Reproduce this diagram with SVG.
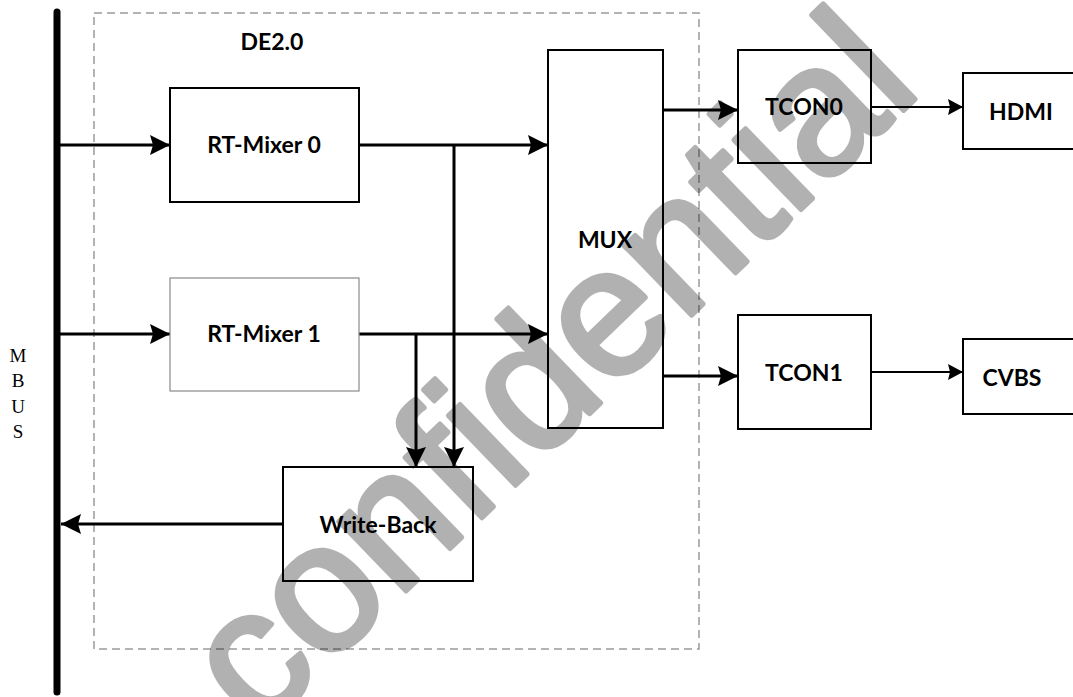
<svg xmlns="http://www.w3.org/2000/svg" width="1073" height="697" viewBox="0 0 1073 697">
<style>
.box{fill:#fff;stroke:#000;stroke-width:2}
.lbl{font-family:Lato,"Open Sans","Liberation Sans",sans-serif;font-weight:bold;font-size:23px;fill:#000;text-anchor:middle}
.wire{fill:none;stroke:#000;stroke-width:3}
.thin{fill:none;stroke:#000;stroke-width:2}
.bus{font-family:"Liberation Serif",serif;font-size:19px;fill:#000;text-anchor:middle}
</style>
<defs>
<marker id="ah" markerUnits="userSpaceOnUse" markerWidth="21" markerHeight="20" refX="20" refY="10" orient="auto" viewBox="0 0 21 20">
<path d="M0,0 L20,10 L0,20 L3,10 z" fill="#000"/>
</marker>
<marker id="ahs" markerUnits="userSpaceOnUse" markerWidth="16" markerHeight="16" refX="15" refY="8" orient="auto" viewBox="0 0 16 16">
<path d="M0,0 L15,8 L0,16 L2,8 z" fill="#000"/>
</marker>
</defs>
<rect width="1073" height="697" fill="#fff"/>
<g id="de2-frame">
<rect x="94" y="13" width="605" height="636" fill="none" stroke="#9a9a9a" stroke-width="1.5" stroke-dasharray="8,5"/>
<text class="lbl" x="272" y="50">DE2.0</text>
</g>
<g id="mbus">
<line x1="57" y1="12" x2="57" y2="692" stroke="#000" stroke-width="7" stroke-linecap="round"/>
<text class="bus" x="18" y="362">M</text>
<text class="bus" x="18" y="387">B</text>
<text class="bus" x="18" y="413">U</text>
<text class="bus" x="18" y="438">S</text>
</g>
<g id="connectors">
<line class="wire" x1="60" y1="145" x2="170" y2="145" marker-end="url(#ah)"/>
<line class="wire" x1="60" y1="334" x2="170" y2="334" marker-end="url(#ah)"/>
<line class="wire" x1="359" y1="145" x2="548" y2="145" marker-end="url(#ah)"/>
<line class="wire" x1="359" y1="334" x2="548" y2="334" marker-end="url(#ah)"/>
<line class="wire" x1="454" y1="144" x2="454" y2="467" marker-end="url(#ah)"/>
<line class="wire" x1="416" y1="333" x2="416" y2="467" marker-end="url(#ah)"/>
<line class="wire" x1="663" y1="110" x2="738" y2="110" marker-end="url(#ah)"/>
<line class="wire" x1="663" y1="376" x2="738" y2="376" marker-end="url(#ah)"/>
<line class="thin" x1="871" y1="107" x2="963" y2="107" marker-end="url(#ahs)"/>
<line class="thin" x1="871" y1="372" x2="963" y2="372" marker-end="url(#ahs)"/>
<line class="wire" x1="283" y1="524" x2="61" y2="524" marker-end="url(#ah)"/>
</g>
<g id="rt-mixer-0">
<rect class="box" x="170" y="88" width="189" height="114"/>
<text class="lbl" x="264" y="153">RT-Mixer 0</text>
</g>
<g id="rt-mixer-1">
<rect x="170" y="278" width="189" height="113" fill="#fff" stroke="#8a8a8a" stroke-width="1.2"/>
<text class="lbl" x="264" y="342">RT-Mixer 1</text>
</g>
<g id="mux">
<rect class="box" x="548" y="50" width="115" height="378"/>
<text class="lbl" x="605" y="248">MUX</text>
</g>
<g id="tcon0">
<rect class="box" x="738" y="50" width="133" height="113"/>
<text class="lbl" x="804" y="115">TCON0</text>
</g>
<g id="hdmi">
<rect class="box" x="963" y="73" width="120" height="76"/>
<text class="lbl" x="1021" y="120">HDMI</text>
</g>
<g id="tcon1">
<rect class="box" x="738" y="315" width="133" height="114"/>
<text class="lbl" x="804" y="381">TCON1</text>
</g>
<g id="cvbs">
<rect class="box" x="963" y="339" width="120" height="75"/>
<text class="lbl" x="1012" y="386">CVBS</text>
</g>
<g id="write-back">
<rect class="box" x="283" y="467" width="190" height="114"/>
<text class="lbl" x="378" y="533">Write-Back</text>
</g>
<g id="watermark" opacity="0.3">
<text x="0" y="0" transform="translate(258,734) rotate(-44)" font-family="'Liberation Sans',Arial,sans-serif" font-size="183" fill="#000" stroke="#000" stroke-width="5" stroke-linejoin="round">confidential</text>
</g>
</svg>
